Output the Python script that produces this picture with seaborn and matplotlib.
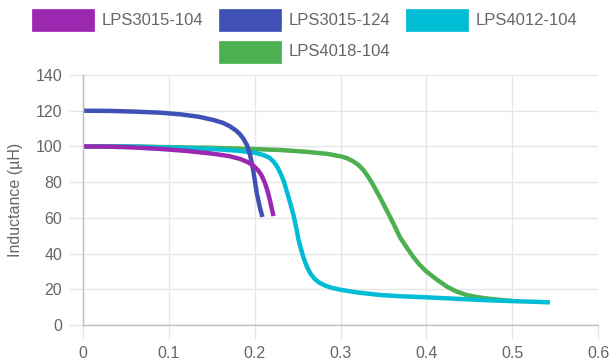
import matplotlib
matplotlib.use("Agg")
import matplotlib.pyplot as plt
from matplotlib.patches import Rectangle
import seaborn as sns
import pandas as pd

# ---- data ----
series_names = ["LPS3015-104", "LPS3015-124", "LPS4012-104", "LPS4018-104"]
series_colors = ["#9C27B0", "#3F51B5", "#00BCD4", "#4CAF50"]

lps3015_104_x = [0, 0.03, 0.06, 0.09, 0.12, 0.15, 0.17, 0.183, 0.192, 0.1985, 0.204, 0.208,
                 0.212, 0.215, 0.218, 0.22, 0.222]
lps3015_104_y = [100, 99.9, 99.4, 98.6, 97.5, 96, 94.6, 93, 91.2, 89.2, 86.6, 83.8,
                 79.5, 75, 69.5, 65, 61]

lps3015_124_x = [0, 0.03, 0.06, 0.09, 0.115, 0.135, 0.152, 0.163, 0.171, 0.178, 0.183, 0.187,
                 0.191, 0.193, 0.195, 0.197, 0.1985, 0.2005, 0.2024, 0.206, 0.209]
lps3015_124_y = [120, 119.9, 119.5, 118.9, 117.9, 116.6, 114.8, 113.2, 111.3, 109, 106.8, 104.2,
                 100.8, 97.8, 94.5, 90, 86, 80, 74, 66, 60.5]

lps4012_104_x = [0, 0.05, 0.1, 0.15, 0.18, 0.2, 0.21, 0.217, 0.222, 0.226, 0.23, 0.234, 0.237,
                 0.241, 0.245, 0.248, 0.251, 0.254, 0.257, 0.261, 0.265, 0.27, 0.276, 0.283,
                 0.29, 0.3015, 0.32, 0.346, 0.37, 0.4, 0.43, 0.463, 0.5, 0.544]
lps4012_104_y = [100, 100, 99.4, 98.6, 97.6, 96.5, 95.2, 93.8, 91.5, 88.8, 85, 80.5, 75.6,
                 69, 62, 55.5, 48, 42.5, 37.5, 32.5, 28.8, 25.7, 23.5, 21.9,
                 20.8, 19.6, 18.2, 16.8, 16.1, 15.5, 14.8, 14, 13.4, 12.7]

lps4018_104_x = [0, 0.05, 0.1, 0.15, 0.2, 0.23, 0.26, 0.285, 0.3015, 0.308, 0.315, 0.321, 0.327,
                 0.333, 0.338, 0.346, 0.354, 0.362, 0.369, 0.377, 0.385, 0.392, 0.4, 0.412,
                 0.424, 0.435, 0.447, 0.458, 0.47, 0.485, 0.5]
lps4018_104_y = [100, 100, 99.6, 99.2, 98.5, 98, 97, 95.8, 94.3, 93.3, 91.6, 89.6, 86.6,
                 82.5, 78.5, 71.5, 64, 56.5, 49.4, 43.5, 38, 33.8, 30, 25.5,
                 21.5, 18.8, 16.8, 15.7, 14.9, 14.1, 13.4]

x_ticks = [0, 0.1, 0.2, 0.3, 0.4, 0.5, 0.6]
x_tick_labels = ["0", "0.1", "0.2", "0.3", "0.4", "0.5", "0.6"]
y_ticks = [0, 20, 40, 60, 80, 100, 120, 140]
y_label = "Inductance (µH)"

frames = []
for name, xs, ys in zip(series_names,
                        [lps3015_104_x, lps3015_124_x, lps4012_104_x, lps4018_104_x],
                        [lps3015_104_y, lps3015_124_y, lps4012_104_y, lps4018_104_y]):
    frames.append(pd.DataFrame({"current": xs, "inductance": ys, "series": name}))
df = pd.concat(frames, ignore_index=True)

# ---- styling ----
sns.set_theme(style="white")
plt.rcParams["font.family"] = ["Liberation Sans", "DejaVu Sans"]
text_color = "#666666"
grid_color = "#e6e6e6"
axis_color = "#bfbfbf"

fig = plt.figure(figsize=(6.11, 3.60), dpi=100)
ax = fig.add_axes([83 / 611, 35 / 360, (598 - 83) / 611, (325 - 75) / 360])

palette = dict(zip(series_names, series_colors))
# first dataset drawn on top (Chart.js style): draw in reverse order
draw_order = list(reversed(series_names))
sns.lineplot(data=df, x="current", y="inductance", hue="series", hue_order=draw_order,
             palette=palette, sort=False, estimator=None, linewidth=3.2,
             legend=False, ax=ax)
for ln in ax.get_lines():
    ln.set_solid_capstyle("butt")
    ln.set_solid_joinstyle("round")

ax.set_xlim(0, 0.6)
ax.set_ylim(0, 140)
ax.set_xticks(x_ticks)
ax.set_xticklabels(x_tick_labels)
ax.set_yticks(y_ticks)
ax.set_xlabel("")
ax.set_ylabel(y_label, color=text_color, fontsize=11.5, labelpad=9)

ax.grid(True, color=grid_color, linewidth=1)
ax.set_axisbelow(True)
for s in ["top", "right"]:
    ax.spines[s].set_visible(False)
for s in ["left", "bottom"]:
    ax.spines[s].set_color(axis_color)
    ax.spines[s].set_linewidth(1)
ax.tick_params(axis="both", which="both", length=10, width=1, color=grid_color,
               labelcolor=text_color, labelsize=11.5, pad=5,
               left=True, bottom=True)

# ---- legend (Chart.js style boxes) ----
legend_rows = [[0, 1, 2], [3]]
box_w, box_h = 62, 21.5
box_x = {0: 32.3, 1: 219.3, 2: 406.0, 3: 219.3}
row_top = [9.3, 41.0]
for r, idxs in enumerate(legend_rows):
    for i in idxs:
        x0 = box_x[i]
        y0 = row_top[r]
        fig.patches.append(Rectangle((x0 / 611, 1 - (y0 + box_h) / 360), box_w / 611, box_h / 360,
                                     transform=fig.transFigure, facecolor=series_colors[i],
                                     edgecolor=series_colors[i], linewidth=0.5))
        fig.text((x0 + box_w + 7.5) / 611, 1 - (y0 + box_h / 2) / 360, series_names[i],
                 color=text_color, fontsize=12, ha="left", va="center")

fig.savefig("out.png", dpi=100)
